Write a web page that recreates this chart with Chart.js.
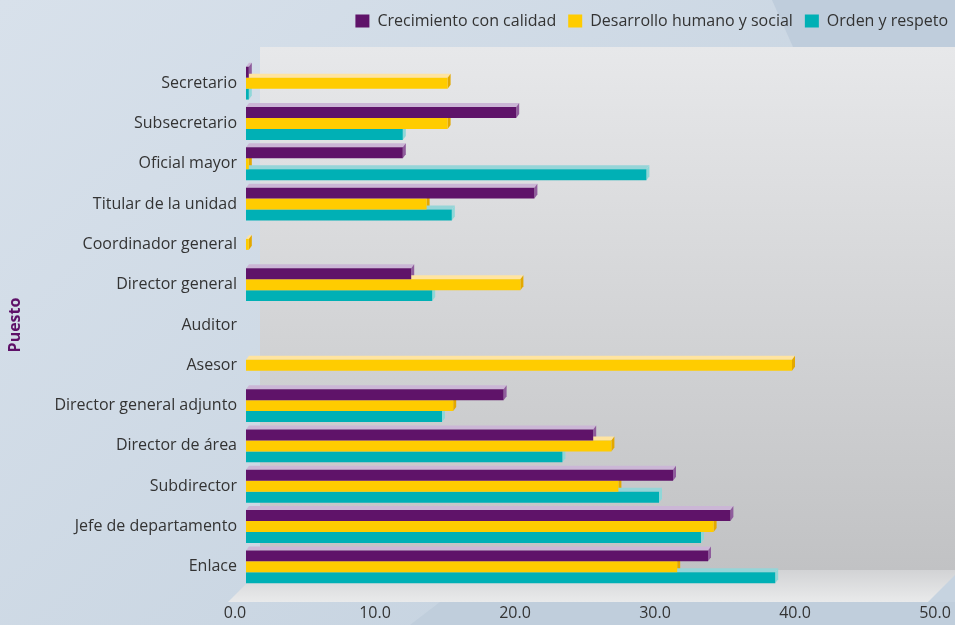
<!DOCTYPE html>
<html><head><meta charset="utf-8">
<script src="https://cdn.jsdelivr.net/npm/chart.js@4/dist/chart.umd.min.js"></script>
<style>html,body{margin:0;padding:0;background:#cfdae6;}#wrap{width:955px;height:625px;position:relative}</style>
</head><body><div id="wrap"><canvas id="c"></canvas></div>
<script>
const categories = ["Secretario","Subsecretario","Oficial mayor","Titular de la unidad","Coordinador general","Director general","Auditor","Asesor","Director general adjunto","Director de área","Subdirector","Jefe de departamento","Enlace"];
const seriesNames = ["Crecimiento con calidad","Desarrollo humano y social","Orden y respeto"];
const crecimiento = [0.2, 19.3, 11.2, 20.6, 0, 11.8, 0, 0, 18.4, 24.8, 30.5, 34.6, 33.0];
const desarrollo  = [14.4, 14.4, 0.2, 12.9, 0.2, 19.6, 0, 39.0, 14.8, 26.1, 26.6, 33.4, 30.8];
const orden       = [0.2, 11.2, 28.6, 14.7, 0, 13.3, 0, 0, 14.0, 22.6, 29.5, 32.5, 37.8];
const xTickValues = [0, 10, 20, 30, 40, 50];
const axisTitle = "Puesto";

const frontColors = ["#5f1369", "#ffcc00", "#00b0b5"];
const topColors   = ["#cbb6d6", "#ffe4a0", "#95d5d8"];
const sideColors  = ["#8f5c9c", "#e3a800", "#8fd7d8"];
const DX = 3, DY = 4;
const FONT = "'Open Sans', 'Noto Sans', sans-serif";

const backdrop = {
  id: 'backdrop',
  beforeDraw(chart) {
    const {ctx, width, height, chartArea: a} = chart;
    const xs = chart.scales.x;
    ctx.save();
    let g = ctx.createLinearGradient(0, 0, width * 0.6, height);
    g.addColorStop(0, '#d8e1eb');
    g.addColorStop(1, '#c6d3e0');
    ctx.fillStyle = g;
    ctx.fillRect(0, 0, width, height);
    const wallL = a.left + 14, wallT = a.top - 16, wallB = a.bottom - 17;
    const floorF = a.bottom + 15;
    ctx.fillStyle = '#bfcddc';
    ctx.beginPath();
    ctx.moveTo(772, 0); ctx.lineTo(width, 0); ctx.lineTo(width, wallT); ctx.lineTo(793, wallT);
    ctx.closePath(); ctx.fill();
    ctx.fillStyle = '#c0cedc';
    ctx.beginPath();
    ctx.moveTo(410, height); ctx.lineTo(440, floorF); ctx.lineTo(width, floorF); ctx.lineTo(width, height);
    ctx.closePath(); ctx.fill();
    g = ctx.createLinearGradient(0, wallT, 0, wallB);
    g.addColorStop(0, '#e7e8ea');
    g.addColorStop(1, '#c1c2c4');
    ctx.fillStyle = g;
    ctx.fillRect(wallL, wallT, width - wallL, wallB - wallT);
    const x0 = xs.getPixelForValue(0), x50 = xs.getPixelForValue(50);
    g = ctx.createLinearGradient(0, wallB, 0, floorF);
    g.addColorStop(0, '#d2d3d5');
    g.addColorStop(1, '#e9eaeb');
    ctx.fillStyle = g;
    ctx.beginPath();
    ctx.moveTo(x0 + 14, wallB); ctx.lineTo(x50 + 14, wallB);
    ctx.lineTo(x50 - 18, floorF); ctx.lineTo(x0 - 18, floorF);
    ctx.closePath(); ctx.fill();
    ctx.restore();
  }
};

const depth3d = {
  id: 'depth3d',
  beforeDatasetsDraw(chart) {
    const ctx = chart.ctx;
    ctx.save();
    chart.data.datasets.forEach((ds, i) => {
      const meta = chart.getDatasetMeta(i);
      meta.data.forEach((bar, j) => {
        const v = ds.data[j];
        if (!v) return;
        const {x, y, base, height} = bar.getProps(['x', 'y', 'base', 'height'], true);
        const top = y - height / 2, bot = y + height / 2;
        ctx.fillStyle = topColors[i];
        ctx.beginPath();
        ctx.moveTo(base, top); ctx.lineTo(base + DX, top - DY);
        ctx.lineTo(x + DX, top - DY); ctx.lineTo(x, top);
        ctx.closePath(); ctx.fill();
        ctx.fillStyle = sideColors[i];
        ctx.beginPath();
        ctx.moveTo(x, top); ctx.lineTo(x + DX, top - DY);
        ctx.lineTo(x + DX, bot - DY); ctx.lineTo(x, bot);
        ctx.closePath(); ctx.fill();
      });
    });
    ctx.restore();
  }
};

function noPad(s) { s.paddingLeft = 0; s.paddingRight = 0; s.paddingTop = 0; s.paddingBottom = 0; }

const seriesData = [crecimiento, desarrollo, orden];
new Chart(document.getElementById('c'), {
  type: 'bar',
  data: {
    labels: categories,
    datasets: seriesNames.map((n, i) => ({
      label: n,
      data: seriesData[i],
      backgroundColor: frontColors[i],
      borderWidth: 0,
      barPercentage: 1.0,
      categoryPercentage: 0.815
    }))
  },
  options: {
    indexAxis: 'y',
    responsive: true,
    maintainAspectRatio: false,
    animation: false,
    devicePixelRatio: 1,
    layout: {padding: {top: 1, left: 0, right: -5, bottom: 0}},
    plugins: {
      legend: {
        position: 'top',
        align: 'end',
        labels: {
          boxWidth: 14, boxHeight: 13, padding: 12,
          color: '#333',
          font: {family: FONT, size: 16}
        }
      },
      tooltip: {enabled: false}
    },
    scales: {
      x: {
        type: 'linear', position: 'bottom', min: 0, max: 50,
        afterBuildTicks(s) { s.ticks = xTickValues.map(v => ({value: v})); },
        grid: {display: false, drawTicks: false}, border: {display: false},
        ticks: {
          color: '#333', font: {family: FONT, size: 16},
          padding: 17, labelOffset: -11, maxRotation: 0,
          callback: v => Number(v).toFixed(1)
        },
        afterFit(s) { s.height = 38; noPad(s); }
      },
      xTop: {
        type: 'linear', axis: 'x', position: 'top', display: true,
        grid: {display: false, drawTicks: false}, border: {display: false}, ticks: {display: false},
        afterFit(s) { s.height = 24; noPad(s); }
      },
      y: {
        type: 'category', position: 'left',
        grid: {display: false, drawTicks: false}, border: {display: false},
        ticks: {color: '#333', font: {family: FONT, size: 16}, padding: 9, autoSkip: false},
        title: {display: true, text: axisTitle, color: '#5e1168', font: {family: FONT, size: 16, weight: 'bold'}, padding: {top: 6, bottom: 4}},
        afterFit(s) { s.width = 246; noPad(s); }
      },
      yRight: {
        type: 'linear', axis: 'y', position: 'right', display: true,
        grid: {display: false, drawTicks: false}, border: {display: false}, ticks: {display: false},
        afterFit(s) { s.width = 14; noPad(s); }
      }
    }
  },
  plugins: [backdrop, depth3d]
});
</script>
</body></html>
